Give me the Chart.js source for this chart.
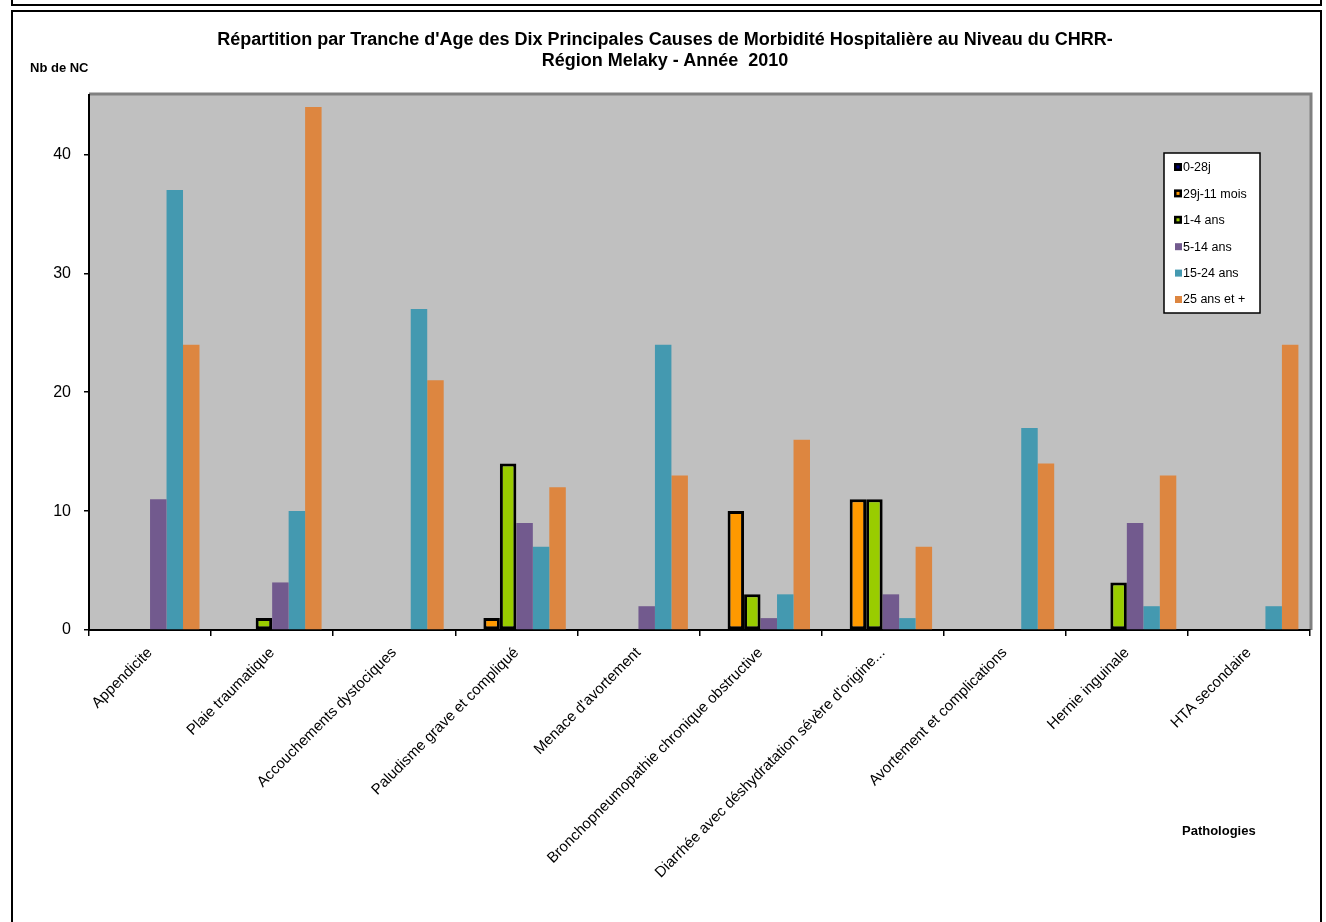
<!DOCTYPE html>
<html>
<head>
<meta charset="utf-8">
<script src="https://cdn.jsdelivr.net/npm/chart.js@4/dist/chart.umd.min.js"></script>
<style>
  body { margin: 0; background: #fff; font-family: "Liberation Sans", Arial, sans-serif; }
  #wrap { position: relative; width: 1326px; height: 922px; overflow: hidden; }
  #topBox { position: absolute; left: 11px; top: -20px; width: 1307px; height: 22px; border: 2px solid #000; }
  #frame { position: absolute; left: 11px; top: 10px; width: 1307px; height: 930px; border: 2px solid #000; }
  canvas { position: absolute; left: 0; top: 0; }
  .txt { position: absolute; font-weight: bold; color: #000; white-space: nowrap; }
  #title { left: 0; width: 1330px; top: 29px; text-align: center; font-size: 18px; line-height: 21px; }
  #ylab { left: 30px; top: 60px; font-size: 13px; }
  #xlab { left: 1182px; top: 823px; font-size: 13px; }
</style>
</head>
<body>
<div id="wrap">
  <div id="topBox"></div>
  <div id="frame"></div>
  <canvas id="chart" width="1326" height="922"></canvas>
  <div class="txt" id="title">Répartition par Tranche d'Age des Dix Principales Causes de Morbidité Hospitalière au Niveau du CHRR-<br>Région Melaky - Année&nbsp; 2010</div>
  <div class="txt" id="ylab">Nb de NC</div>
  <div class="txt" id="xlab">Pathologies</div>
</div>
<script>
const categories = [
  "Appendicite",
  "Plaie traumatique",
  "Accouchements dystociques",
  "Paludisme grave et compliqué",
  "Menace d'avortement",
  "Bronchopneumopathie chronique obstructive",
  "Diarrhée avec déshydratation sévère d'origine...",
  "Avortement et complications",
  "Hernie inguinale",
  "HTA secondaire"
];
const seriesNames = ["0-28j", "29j-11 mois", "1-4 ans", "5-14 ans", "15-24 ans", "25 ans et +"];
const age0_28j  = [0, 0, 0, 0, 0, 0, 0, 0, 0, 0];
const age29j_11m = [0, 0, 0, 1, 0, 10, 11, 0, 0, 0];
const age1_4    = [0, 1, 0, 14, 0, 3, 11, 0, 4, 0];
const age5_14   = [11, 4, 0, 9, 2, 1, 3, 0, 9, 0];
const age15_24  = [37, 10, 27, 7, 24, 3, 1, 17, 2, 2];
const age25plus = [24, 44, 21, 12, 13, 16, 7, 14, 13, 24];
const yTicks = [0, 10, 20, 30, 40];

const colors = ["#000080", "#FF9900", "#99CC00", "#725A8E", "#4499B0", "#DD8640"];
const bordered = [true, true, true, false, false, false];
const allData = [age0_28j, age29j_11m, age1_4, age5_14, age15_24, age25plus];

const datasets = seriesNames.map((name, i) => ({
  label: name,
  data: allData[i],
  backgroundColor: colors[i],
  borderColor: "#000",
  borderWidth: bordered[i] ? 3 : 0,
  borderSkipped: false,
  categoryPercentage: 0.81,
  barPercentage: 1.0
}));

// grey plot area with darker top/right edge
const plotBg = {
  id: "plotBg",
  beforeDraw(chart) {
    const a = chart.chartArea, ctx = chart.ctx;
    ctx.save();
    ctx.fillStyle = "#C0C0C0";
    ctx.fillRect(a.left, a.top, a.right - a.left, a.bottom - a.top);
    ctx.strokeStyle = "#808080";
    ctx.lineWidth = 3;
    ctx.beginPath();
    ctx.moveTo(a.left, a.top - 1);
    ctx.lineTo(a.right + 1, a.top - 1);
    ctx.lineTo(a.right + 1, a.bottom);
    ctx.stroke();
    ctx.restore();
  }
};

// legend box drawn inside the plot
const boxLegend = {
  id: "boxLegend",
  afterDraw(chart) {
    const ctx = chart.ctx;
    const x = 1164, y = 153, w = 96, h = 160;
    ctx.save();
    ctx.fillStyle = "#fff";
    ctx.fillRect(x, y, w, h);
    ctx.strokeStyle = "#000";
    ctx.lineWidth = 1.5;
    ctx.strokeRect(x, y, w, h);
    ctx.font = "12.5px 'Liberation Sans', Arial, sans-serif";
    ctx.textBaseline = "middle";
    chart.data.datasets.forEach((ds, i) => {
      const cy = y + 14 + i * 26.4;
      if (bordered[i]) {
        ctx.fillStyle = "#000";
        ctx.fillRect(x + 10, cy - 4, 8, 8);
        ctx.fillStyle = ds.backgroundColor;
        ctx.fillRect(x + 12.5, cy - 1.5, 3, 3);
      } else {
        ctx.fillStyle = ds.backgroundColor;
        ctx.fillRect(x + 11, cy - 3, 7, 7);
      }
      ctx.fillStyle = "#000";
      ctx.fillText(ds.label, x + 19, cy + 1);
    });
    ctx.restore();
  }
};

new Chart(document.getElementById("chart"), {
  type: "bar",
  data: { labels: categories, datasets: datasets },
  options: {
    responsive: false,
    animation: false,
    layout: { padding: { left: 0, right: 16, top: 95, bottom: 0 } },
    scales: {
      x: {
        grid: { drawOnChartArea: false, color: "#000", tickLength: 6, offset: true, lineWidth: 1.5 },
        border: { color: "#000", width: 2 },
        ticks: {
          color: "#000",
          font: { family: "'Liberation Sans', Arial, sans-serif", size: 15 },
          autoSkip: false,
          maxRotation: 45,
          minRotation: 45,
          padding: 8
        },
        afterFit: (s) => { s.height = 292; }
      },
      y: {
        min: 0,
        max: 45,
        grid: { drawOnChartArea: false, color: "#000", tickLength: 5, lineWidth: 1.5 },
        border: { color: "#000", width: 2 },
        ticks: {
          stepSize: 10,
          color: "#000",
          padding: 13,
          font: { family: "'Liberation Sans', Arial, sans-serif", size: 16 }
        },
        afterBuildTicks: (s) => {
          s.ticks = yTicks.map(v => ({ value: v }));
        },
        afterFit: (s) => { s.width = 89; }
      }
    },
    plugins: {
      legend: { display: false },
      title: { display: false },
      tooltip: { enabled: false }
    }
  },
  plugins: [plotBg, boxLegend]
});
</script>
</body>
</html>
